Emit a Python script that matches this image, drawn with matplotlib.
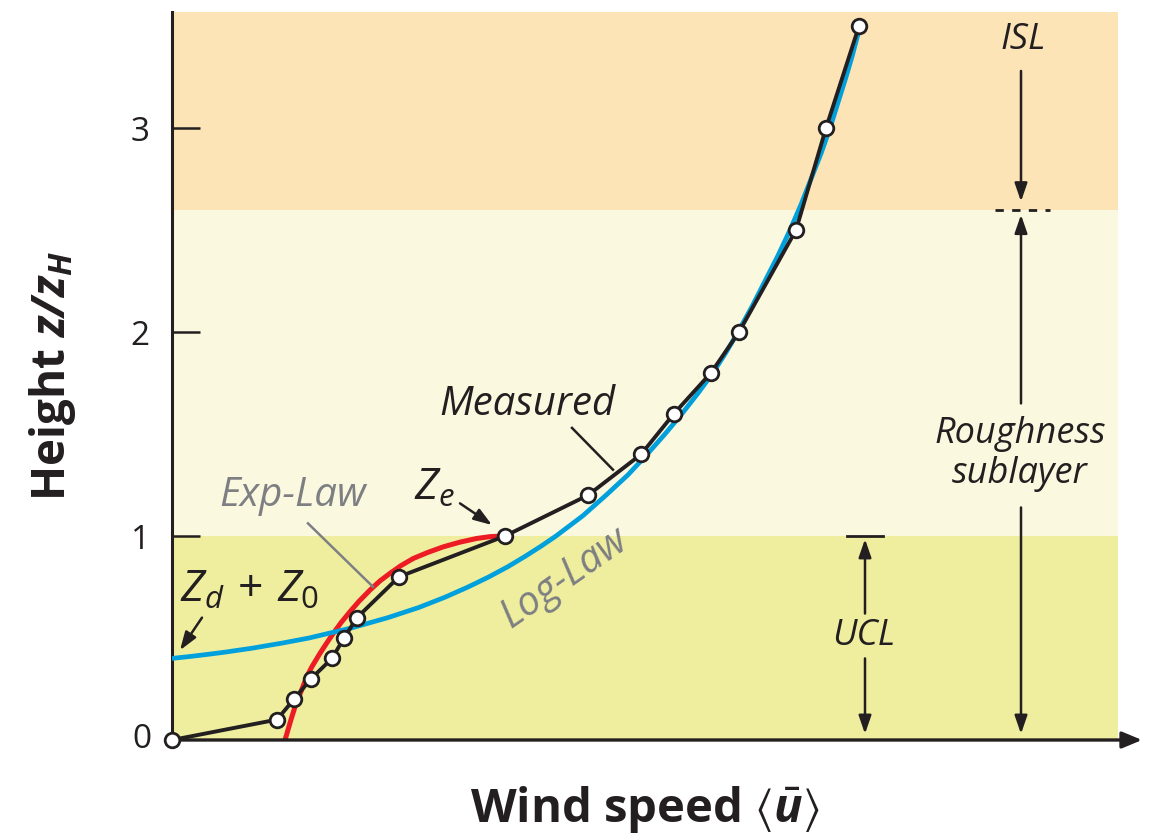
import matplotlib
matplotlib.use('Agg')
import matplotlib.pyplot as plt

plt.rcParams['font.family'] = ['Open Sans', 'DejaVu Sans']
plt.rcParams['mathtext.fontset'] = 'custom'
plt.rcParams['mathtext.rm'] = 'Open Sans'
plt.rcParams['mathtext.it'] = 'Open Sans:italic'
plt.rcParams['mathtext.bf'] = 'Open Sans:bold'
plt.rcParams['mathtext.bfit'] = 'Open Sans:italic:bold'
plt.rcParams['mathtext.fallback'] = 'stixsans'

# measured profile (wind speed in arbitrary units, height z/z_H)
meas_u = [0.0, 1.05, 1.22, 1.39, 1.60, 1.72, 1.85, 2.27, 3.33, 4.16, 4.69, 5.02, 5.39, 5.67, 6.24, 6.54, 6.87]
meas_z = [0.0, 0.1, 0.2, 0.3, 0.4, 0.5, 0.6, 0.8, 1.0, 1.2, 1.4, 1.6, 1.8, 2.0, 2.5, 3.0, 3.5]

# log-law curve
log_u = [0.0, 0.19, 0.36, 0.52, 0.80, 1.10, 1.37, 1.80, 2.16, 2.47, 2.73, 2.96, 3.17,
         3.36, 3.53, 3.69, 3.84, 4.11, 4.34, 4.56, 4.75, 4.93, 5.10, 5.26, 5.41, 5.54,
         5.66, 5.80, 5.93, 6.06, 6.18, 6.29, 6.39, 6.49, 6.58, 6.66, 6.74, 6.80, 6.86]
log_z = [0.40, 0.41, 0.42, 0.43, 0.45, 0.475, 0.50, 0.55, 0.60, 0.65, 0.70, 0.75, 0.80,
         0.85, 0.90, 0.95, 1.00, 1.10, 1.20, 1.30, 1.40, 1.50, 1.60, 1.70, 1.80, 1.90,
         2.00, 2.125, 2.25, 2.375, 2.50, 2.625, 2.75, 2.875, 3.00, 3.125, 3.25, 3.35, 3.46]

# exp-law curve (canopy layer only)
exp_u = [1.13, 1.16, 1.19, 1.23, 1.26, 1.30, 1.347, 1.40, 1.48, 1.54, 1.613, 1.69, 1.78,
         1.87, 1.98, 2.08, 2.18, 2.29, 2.413, 2.56, 2.713, 2.88, 3.047, 3.18, 3.313]
exp_z = [0.0, 0.05, 0.10, 0.163, 0.20, 0.25, 0.31, 0.36, 0.425, 0.47, 0.523, 0.575, 0.629,
         0.68, 0.735, 0.78, 0.817, 0.855, 0.89, 0.92, 0.947, 0.97, 0.988, 0.997, 1.0]

# layer bands
layer_bottom = [0.0, 1.0, 2.6]
layer_top = [1.0, 2.6, 4.0]
layer_colors = ['#EFEE9F', '#FBF8E0', '#FCE4B6']

yticks = [1, 2, 3]

ink = '#231F20'
grey = '#7D7F82'

fig = plt.figure(figsize=(11.49, 8.34), dpi=100)
ax = fig.add_axes([172 / 1149, 94 / 834, 946 / 1149, 728 / 834])
ax.set_xlim(0, 9.46)
ax.set_ylim(0, 3.569)

for b, t, c in zip(layer_bottom, layer_top, layer_colors):
    ax.axhspan(b, t, color=c, lw=0, zorder=0)

ax.plot(exp_u, exp_z, color='#ED1C24', lw=3.6, zorder=2, solid_capstyle='butt',
        solid_joinstyle='round')
ax.plot(log_u, log_z, color='#00A0DC', lw=3.4, zorder=3, solid_capstyle='butt',
        solid_joinstyle='round')
ax.plot(meas_u, meas_z, color=ink, lw=2.8, marker='o', ms=10.5, mfc='white',
        mec=ink, mew=2.0, zorder=5, clip_on=False)

# axes
for s in ['top', 'right', 'bottom']:
    ax.spines[s].set_visible(False)
ax.spines['left'].set_linewidth(2.2)
ax.spines['left'].set_color(ink)
ax.annotate('', xy=(9.70, 0), xytext=(0, 0), xycoords='data',
            arrowprops=dict(arrowstyle='-|>,head_length=1.2,head_width=0.5',
                            color=ink, lw=2.4, shrinkA=0, shrinkB=0),
            annotation_clip=False, zorder=4)
ax.set_xticks([])
ax.set_yticks(yticks)
ax.tick_params(axis='y', direction='in', length=20, width=1.8, color=ink,
               labelsize=24, pad=16, labelcolor=ink)
ax.text(-0.2, 0, '0', ha='right', va='center', fontsize=24, color=ink,
        transform=ax.transData, clip_on=False)
ax.set_xlabel(r'Wind speed $\langle\bar{\mathbfit{u}}\rangle$', fontsize=34,
              fontweight='bold', color=ink, labelpad=32)
ax.set_ylabel(r'Height $\mathbfit{z/z}_{\mathbfit{H}}$', fontsize=33,
              fontweight='bold', color=ink, labelpad=38)

# annotations
arw = dict(arrowstyle='-|>,head_length=1.1,head_width=0.38', color=ink, lw=1.8,
           shrinkA=0, shrinkB=0)
ax.text(3.55, 1.645, 'Measured', fontsize=29, style='italic', color=ink,
        ha='center', va='center')
ax.plot([4.00, 4.41], [1.53, 1.325], color=ink, lw=1.8, zorder=4)

ax.text(2.62, 1.235, r'$Z_e$', fontsize=32, color=ink, ha='center', va='center')
ax.annotate('', xy=(3.20, 1.054), xytext=(2.88, 1.16), arrowprops=arw)

ax.text(1.21, 1.195, 'Exp-Law', fontsize=29, style='italic', color=grey,
        ha='center', va='center')
ax.plot([1.36, 2.01], [1.062, 0.751], color=grey, lw=1.8, zorder=4)

ax.text(3.93, 0.79, 'Log-Law', fontsize=29, style='italic', color=grey,
        ha='center', va='center', rotation=35)

ax.text(0.78, 0.735, r'$Z_d\,+\,Z_0$', fontsize=32, color=ink, ha='center', va='center')
ax.annotate('', xy=(0.08, 0.44), xytext=(0.30, 0.60), arrowprops=arw)

# layer markers on the right
ax.text(8.51, 3.43, 'ISL', fontsize=26, style='italic', color=ink,
        ha='center', va='center')
ax.annotate('', xy=(8.49, 2.64), xytext=(8.49, 3.28), arrowprops=arw)
ax.plot([8.23, 8.78], [2.6, 2.6], color=ink, lw=2.0, ls=(0, (3, 3)), zorder=4)
ax.annotate('', xy=(8.49, 2.575), xytext=(8.49, 1.65), arrowprops=arw)
ax.annotate('', xy=(8.49, 0.03), xytext=(8.49, 1.14), arrowprops=arw)
ax.text(8.48, 1.40, 'Roughness\nsublayer', fontsize=26, style='italic', color=ink,
        ha='center', va='center', linespacing=1.15)

ax.plot([6.75, 7.11], [1.0, 1.0], color=ink, lw=2.0, zorder=4)
ax.annotate('', xy=(6.93, 0.985), xytext=(6.93, 0.62), arrowprops=arw)
ax.annotate('', xy=(6.93, 0.03), xytext=(6.93, 0.40), arrowprops=arw)
ax.text(6.92, 0.51, 'UCL', fontsize=26, style='italic', color=ink,
        ha='center', va='center')

fig.savefig('out.png', dpi=100)
